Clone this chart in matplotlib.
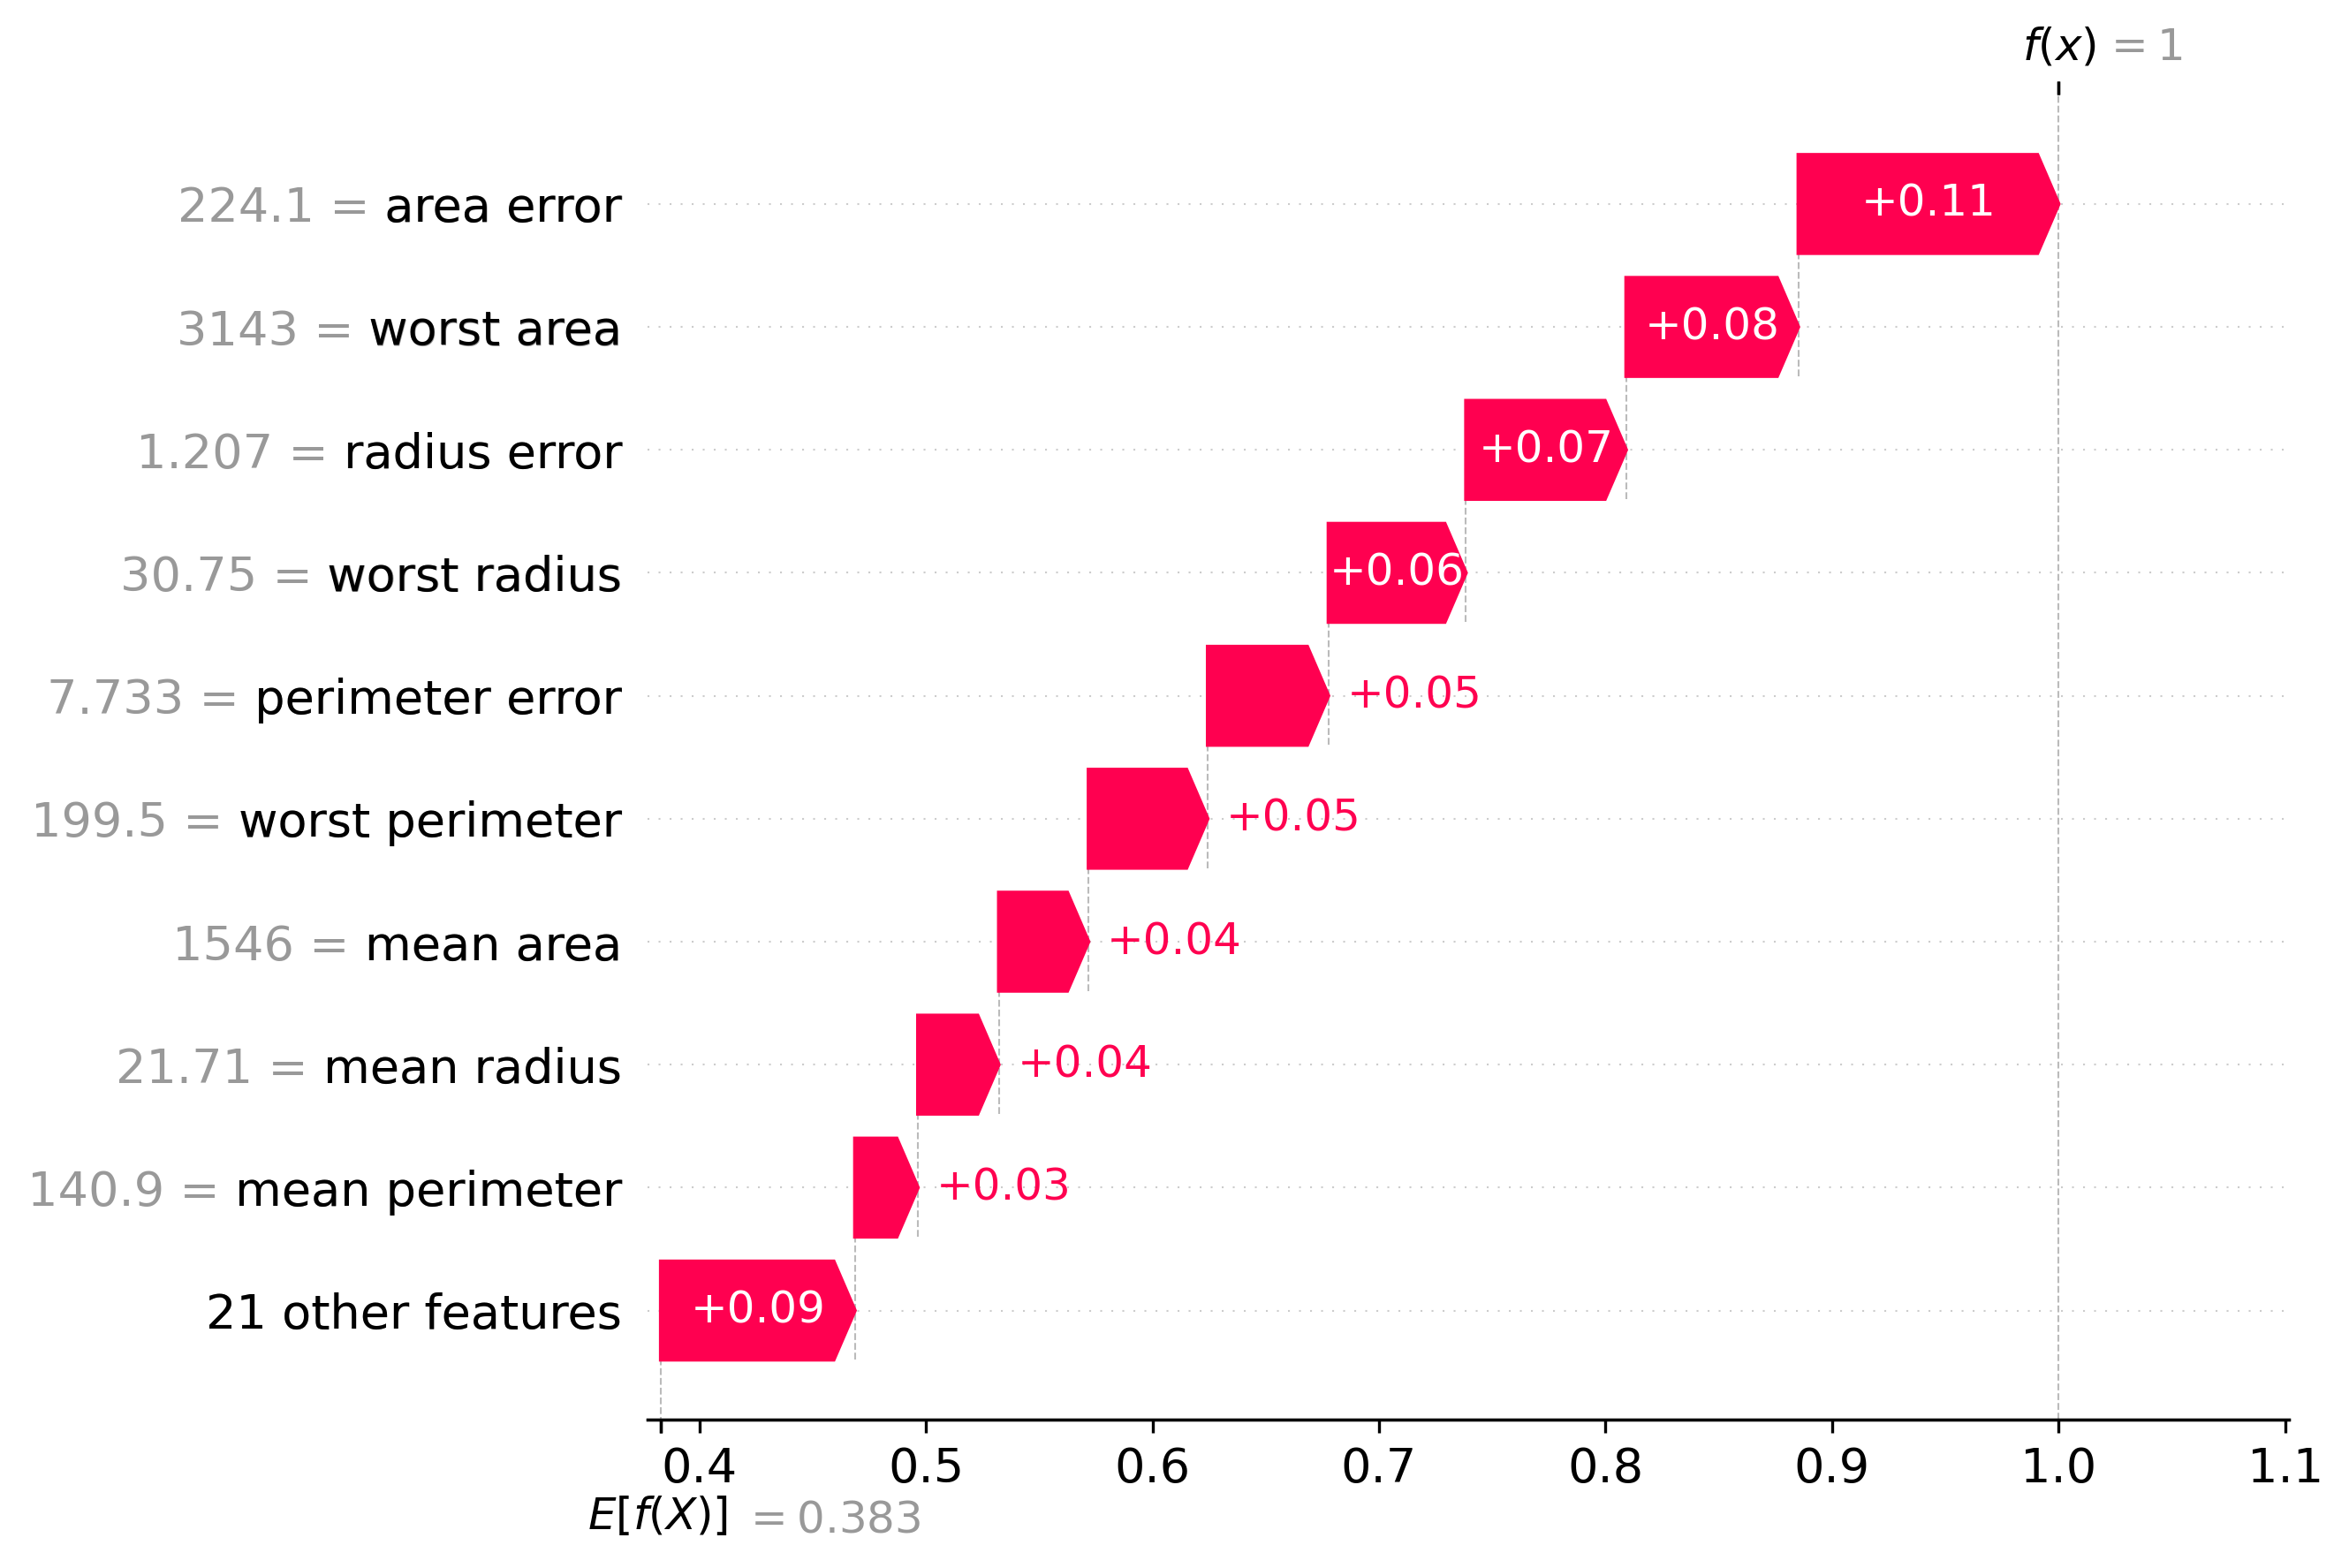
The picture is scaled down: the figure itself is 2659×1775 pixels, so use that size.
import numpy as np
import matplotlib
matplotlib.use("Agg")
import matplotlib.pyplot as plt
import matplotlib.transforms as mtransforms

# waterfall of feature contributions for one prediction
features = ["area error", "worst area", "radius error", "worst radius", "perimeter error",
            "worst perimeter", "mean area", "mean radius", "mean perimeter"]
feature_values = [224.1, 3143, 1.207, 30.75, 7.733, 199.5, 1546, 21.71, 140.9]
contributions = [0.1149, 0.0760, 0.0707, 0.0607, 0.0533, 0.0526, 0.0396, 0.0357, 0.0278]
n_other = 21
other_contribution = 0.0857
base_value = 0.383

RED = (1.0, 0.0, 0.3137)
GRAY = "#999999"


def fmt(v, f):
    s = f % v
    if "." in s:
        s = s.rstrip("0").rstrip(".")
    return s


labels = [f"{fmt(v, '%0.03f')} = {name}" for v, name in zip(feature_values, features)]
labels.append(f"{n_other} other features")
values = contributions + [other_contribution]
n = len(values)
ypos = list(range(n - 1, -1, -1))
fx = base_value + sum(values)

fig = plt.figure(figsize=(2659 / 300, 1775 / 300), dpi=300)
ax = fig.add_axes([0.2758, 0.0944, 0.6987, 0.8453])
xlim = (0.3773, 1.1017)
ax.set_xlim(*xlim)
ax.set_ylim(-0.89, 9.89)

# arrow head size in data units (0.08 inch)
bbox = ax.get_window_extent().transformed(fig.dpi_scale_trans.inverted())
to_x = (xlim[1] - xlim[0]) / bbox.width
head = 0.08 * to_x
renderer = fig.canvas.get_renderer()

loc = fx
for y, val in zip(ypos, values):
    loc -= val
    arr = ax.arrow(loc, y, max(val - head, 1e-6), 0, head_length=min(val, head),
                   color=RED, width=0.8, head_width=0.8)
    ax.plot([loc, loc], [y - 1 - 0.4, y + 0.4], color="#bbbbbb", linestyle="--",
            linewidth=0.5, zorder=-1)
    txt = ax.text(loc + 0.5 * val, y, fmt(val, "%+0.02f"), ha="center", va="center",
                  color="white", fontsize=12)
    if txt.get_window_extent(renderer=renderer).width > arr.get_window_extent(renderer=renderer).width:
        txt.remove()
        ax.text(loc + (5 / 72) * to_x + val, y, fmt(val, "%+0.02f"), ha="left", va="center",
                color=RED, fontsize=12)

for y in ypos:
    ax.axhline(y, color="#cccccc", lw=0.5, dashes=(1, 5), zorder=-1)

ax.axvline(fx, 0, 1, color="#bbbbbb", linestyle="--", linewidth=0.5, zorder=-1)

# labels drawn twice: full text in gray, feature name on top in black
ax.set_yticks(ypos + [y + 1e-8 for y in ypos])
ax.set_yticklabels(labels + [lab.split("=")[-1] for lab in labels], fontsize=13)
for t in ax.get_yticklabels()[:n]:
    t.set_color(GRAY)
ax.yaxis.set_ticks_position("none")
ax.tick_params(axis="x", labelsize=13)
for s in ["top", "right", "left"]:
    ax.spines[s].set_visible(False)

# E[f(X)] marker at the bottom
ax2 = ax.twiny()
ax2.set_xlim(*xlim)
ax2.xaxis.set_ticks_position("bottom")
ax2.set_xticks([base_value, base_value + 1e-8])
ax2.set_xticklabels(["\n$E[f(X)]$", "\n$ = " + fmt(base_value, "%0.03f") + "$"], fontsize=12, ha="left")
for s in ["top", "right", "left"]:
    ax2.spines[s].set_visible(False)

# f(x) marker at the top
ax3 = ax.twiny()
ax3.set_xlim(*xlim)
ax3.set_xticks([fx, fx + 1e-8])
ax3.set_xticklabels(["$f(x)$", "$ = " + fmt(fx, "%0.03f") + "$"], fontsize=12, ha="left")
for s in ["bottom", "right", "left", "top"]:
    ax3.spines[s].set_visible(False)

tl = ax3.xaxis.get_majorticklabels()
tl[0].set_transform(tl[0].get_transform() + mtransforms.ScaledTranslation(-10 / 72., 0, fig.dpi_scale_trans))
tl[1].set_transform(tl[1].get_transform() + mtransforms.ScaledTranslation(12 / 72., 0, fig.dpi_scale_trans))
tl[1].set_color(GRAY)

tl = ax2.xaxis.get_majorticklabels()
tl[0].set_transform(tl[0].get_transform() + mtransforms.ScaledTranslation(-20 / 72., 0, fig.dpi_scale_trans))
tl[1].set_transform(tl[1].get_transform() + mtransforms.ScaledTranslation(22 / 72., -1 / 72., fig.dpi_scale_trans))
tl[1].set_color(GRAY)

fig.savefig("out.png", dpi=300)
